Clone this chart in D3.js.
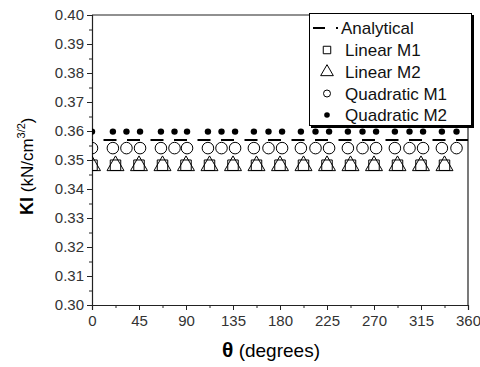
<!DOCTYPE html>
<html><head><meta charset="utf-8">
<script src="https://cdn.jsdelivr.net/npm/d3@7"></script>
<style>body{margin:0;background:#fff}svg{display:block}text{font-family:"Liberation Sans",Arial,sans-serif}</style>
</head><body>
<svg id="c" width="480" height="367"></svg>
<script>
const analyticalValue = 0.3569;
const linearThetas = [0, 22.5, 45, 67.5, 90, 112.5, 135, 157.5, 180, 202.5, 225, 247.5, 270, 292.5, 315, 337.5];
const linearM1 = [0.3482,0.3482,0.3482,0.3482,0.3482,0.3482,0.3482,0.3482,0.3482,0.3482,0.3482,0.3482,0.3482,0.3482,0.3482,0.3482];
const linearM2 = [0.3482,0.3482,0.3482,0.3482,0.3482,0.3482,0.3482,0.3482,0.3482,0.3482,0.3482,0.3482,0.3482,0.3482,0.3482,0.3482];
const quadThetas = [0, 20, 33, 46, 66, 79, 91, 111, 124, 137, 155, 169, 182, 200, 214, 227, 245, 259, 272, 290, 304, 317, 335, 349];
const quadM1 = [0.3541,0.3541,0.3541,0.3541,0.3541,0.3541,0.3541,0.3541,0.3541,0.3541,0.3541,0.3541,0.3541,0.3541,0.3541,0.3541,0.3541,0.3541,0.3541,0.3541,0.3541,0.3541,0.3541,0.3541];
const quadM2 = [0.3598,0.3598,0.3598,0.3598,0.3598,0.3598,0.3598,0.3598,0.3598,0.3598,0.3598,0.3598,0.3598,0.3598,0.3598,0.3598,0.3598,0.3598,0.3598,0.3598,0.3598,0.3598,0.3598,0.3598];
const xTicks = [0, 45, 90, 135, 180, 225, 270, 315, 360];
const yTicks = [0.30, 0.31, 0.32, 0.33, 0.34, 0.35, 0.36, 0.37, 0.38, 0.39, 0.40];
const legendLabels = ["Analytical", "Linear M1", "Linear M2", "Quadratic M1", "Quadratic M2"];

const W = 480, H = 367, L = 92, T = 15, R = 468, B = 305;
const svg = d3.select("#c");
const x = d3.scaleLinear().domain([0, 360]).range([L, R]);
const y = d3.scaleLinear().domain([0.30, 0.40]).range([B, T]);
const ink = "#222";

svg.append("defs").append("clipPath").attr("id", "clip")
  .append("rect").attr("x", L).attr("y", T).attr("width", R - L).attr("height", B - T);

// frame top/right
svg.append("path").attr("d", `M${L},${T}H${R}V${B}`).attr("fill", "none").attr("stroke", ink).attr("stroke-width", 1.2);

// x axis
const xMinor = d3.range(22.5, 360, 45);
const xAx = svg.append("g").attr("transform", `translate(0,${B})`);
xAx.call(d3.axisBottom(x).tickValues(xTicks).tickSize(5).tickFormat(d3.format("d")));
xAx.append("g").call(d3.axisBottom(x).tickValues(xMinor).tickSize(3).tickFormat(""));
xAx.selectAll(".domain").attr("stroke", ink).attr("stroke-width", 1.2);
xAx.selectAll("line").attr("stroke", ink);
xAx.selectAll("text").attr("font-size", 15).attr("fill", "#333").attr("dy", "0.85em");
xAx.selectAll("g g .domain").remove();

// y axis
const yMinor = d3.range(0, 10).map(i => 0.305 + i * 0.01);
const yAx = svg.append("g").attr("transform", `translate(${L},0)`);
yAx.call(d3.axisLeft(y).tickValues(yTicks).tickSize(5).tickFormat(d3.format(".2f")));
yAx.append("g").call(d3.axisLeft(y).tickValues(yMinor).tickSize(3).tickFormat(""));
yAx.selectAll(".domain").attr("stroke", ink).attr("stroke-width", 1.2);
yAx.selectAll("line").attr("stroke", ink);
yAx.selectAll("text").attr("font-size", 15).attr("fill", "#333").attr("x", -8);
yAx.selectAll("g g .domain").remove();

// data
const plot = svg.append("g").attr("clip-path", "url(#clip)");
const period = x(22.5) - x(0);
plot.append("line").attr("x1", x(0)).attr("x2", x(360))
  .attr("y1", y(analyticalValue)).attr("y2", y(analyticalValue))
  .attr("stroke", "#000").attr("stroke-width", 2)
  .attr("stroke-dasharray", `13,${period - 13}`).attr("stroke-dashoffset", period - 11.5);

const sq = d3.symbol().type(d3.symbolSquare).size(110);
const tri = d3.symbol().type(d3.symbolTriangle).size(125);
const circ = d3.symbol().type(d3.symbolCircle).size(105);
plot.selectAll(".m1").data(linearThetas).join("path")
  .attr("transform", (d, i) => `translate(${x(d)},${y(linearM1[i])})`)
  .attr("d", sq).attr("fill", "none").attr("stroke", "#000").attr("stroke-width", 1);
plot.selectAll(".m2").data(linearThetas).join("path")
  .attr("transform", (d, i) => `translate(${x(d)},${y(linearM2[i]) + 0.5})`)
  .attr("d", tri).attr("fill", "none").attr("stroke", "#000").attr("stroke-width", 1);
plot.selectAll(".q1").data(quadThetas).join("path")
  .attr("transform", (d, i) => `translate(${x(d)},${y(quadM1[i])})`)
  .attr("d", circ).attr("fill", "none").attr("stroke", "#000").attr("stroke-width", 1);
plot.selectAll(".q2").data(quadThetas).join("circle")
  .attr("cx", d => x(d)).attr("cy", (d, i) => y(quadM2[i])).attr("r", 3.2).attr("fill", "#000");

// legend
const lg = svg.append("g");
lg.append("rect").attr("x", 311).attr("y", 15).attr("width", 163).attr("height", 113).attr("fill", "#000");
lg.append("rect").attr("x", 309.5).attr("y", 13.5).attr("width", 162).attr("height", 112)
  .attr("fill", "#fff").attr("stroke", "#000").attr("stroke-width", 1);
const rowY = [28, 50, 72, 93.5, 115];
lg.append("line").attr("x1", 313).attr("x2", 339).attr("y1", rowY[0]).attr("y2", rowY[0])
  .attr("stroke", "#000").attr("stroke-width", 2).attr("stroke-dasharray", "12,11,2,10");
lg.append("path").attr("transform", `translate(327,${rowY[1]})`).attr("d", d3.symbol().type(d3.symbolSquare).size(56)).attr("fill", "none").attr("stroke", "#000");
lg.append("path").attr("transform", `translate(327,${rowY[2]})`).attr("d", d3.symbol().type(d3.symbolTriangle).size(70)).attr("fill", "none").attr("stroke", "#000");
lg.append("circle").attr("cx", 327).attr("cy", rowY[3]).attr("r", 3.5).attr("fill", "none").attr("stroke", "#000");
lg.append("circle").attr("cx", 327).attr("cy", rowY[4]).attr("r", 2.8).attr("fill", "#000");
lg.selectAll(".lt").data(legendLabels).join("text")
  .attr("x", (d, i) => i === 0 ? 341 : 345).attr("y", (d, i) => rowY[i]).attr("dy", "0.36em")
  .attr("font-size", 17).attr("fill", "#111").text(d => d);

// y title
const yt = svg.append("text").attr("transform", "translate(33,215) rotate(-90)").attr("fill", "#000");
yt.append("tspan").attr("font-weight", "bold").attr("font-size", 18).text("KI");
yt.append("tspan").attr("font-size", 17).text(" (kN/cm");
yt.append("tspan").attr("font-size", 11).attr("dy", -8).text("3/2");
yt.append("tspan").attr("font-size", 17).attr("dy", 8).text(")");

// x title
const xt = svg.append("text").attr("x", 271).attr("y", 357).attr("text-anchor", "middle").attr("fill", "#000");
xt.append("tspan").attr("font-weight", "bold").attr("font-size", 21).text("θ");
xt.append("tspan").attr("font-size", 19).text(" (degrees)");
</script>
</body></html>
